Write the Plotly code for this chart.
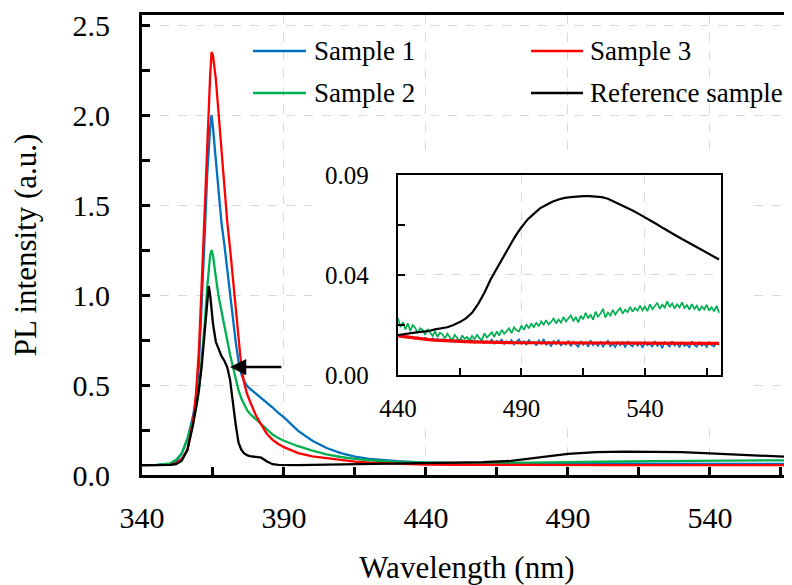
import plotly.graph_objects as go

# ---------------- main spectrum data ----------------
wavelength = [340, 345, 350, 352, 354, 356, 358, 359, 360, 361, 362, 363, 363.5, 364, 364.5,
              365, 366, 367, 368, 369, 370, 371, 372, 373, 374, 375, 376, 377, 378, 380,
              382, 384, 386, 388, 390, 395, 400, 405, 410, 415, 420, 430, 440, 450, 460,
              470, 475, 480, 485, 490, 495, 500, 510, 520, 530, 540, 550, 560, 570]

sample1 = [0.055, 0.055, 0.062, 0.075, 0.12, 0.2, 0.33, 0.42, 0.6, 0.92, 1.3, 1.68, 1.83, 1.93, 2.0,
           1.93, 1.75, 1.57, 1.4, 1.28, 1.14, 1.0, 0.86, 0.74, 0.63, 0.56, 0.52, 0.495, 0.48, 0.455,
           0.43, 0.4, 0.375, 0.345, 0.32, 0.245, 0.19, 0.15, 0.122, 0.102, 0.09, 0.077, 0.069, 0.066, 0.064,
           0.063, 0.063, 0.063, 0.063, 0.063, 0.063, 0.063, 0.063, 0.063, 0.062, 0.062, 0.062, 0.062, 0.062]

sample2 = [0.055, 0.056, 0.065, 0.085, 0.12, 0.2, 0.31, 0.37, 0.46, 0.62, 0.82, 1.05, 1.15, 1.22, 1.25,
           1.22, 1.1, 0.99, 0.91, 0.82, 0.75, 0.67, 0.6, 0.53, 0.47, 0.425, 0.39, 0.36, 0.34, 0.31,
           0.28, 0.25, 0.225, 0.205, 0.19, 0.16, 0.135, 0.115, 0.1, 0.09, 0.082, 0.073, 0.068, 0.066, 0.066,
           0.067, 0.068, 0.069, 0.07, 0.072, 0.073, 0.074, 0.075, 0.077, 0.079, 0.08, 0.081, 0.081, 0.081]

sample3 = [0.055, 0.055, 0.056, 0.065, 0.09, 0.14, 0.3, 0.45, 0.68, 1.05, 1.45, 1.9, 2.1, 2.22, 2.35,
           2.33, 2.2, 1.99, 1.81, 1.6, 1.41, 1.26, 1.1, 0.95, 0.75, 0.6, 0.51, 0.45, 0.41, 0.335,
           0.28, 0.228, 0.195, 0.172, 0.155, 0.122, 0.104, 0.093, 0.082, 0.074, 0.068, 0.062, 0.058, 0.057, 0.056,
           0.056, 0.056, 0.056, 0.056, 0.056, 0.055, 0.055, 0.055, 0.055, 0.055, 0.055, 0.055, 0.055, 0.055]

reference = [0.055, 0.055, 0.056, 0.06, 0.08, 0.14, 0.28, 0.37, 0.47, 0.6, 0.78, 0.98, 1.05, 1.0, 0.92,
             0.84, 0.74, 0.7, 0.66, 0.635, 0.6, 0.53, 0.4, 0.28, 0.18, 0.14, 0.12, 0.11, 0.105, 0.1,
             0.096, 0.075, 0.06, 0.056, 0.055, 0.055, 0.056, 0.057, 0.058, 0.059, 0.06, 0.062, 0.066, 0.068, 0.071,
             0.078, 0.089, 0.098, 0.108, 0.117, 0.122, 0.127, 0.130, 0.130, 0.127, 0.120, 0.113, 0.106, 0.099]

# ---------------- inset data ----------------
# smooth curves (Sample 3, Reference) on a 2.5 nm grid
inset_wl = [440, 442.5, 445, 447.5, 450, 452.5, 455, 457.5, 460, 462.5, 465, 467.5, 470, 472.5,
            475, 477.5, 480, 482.5, 485, 487.5, 490, 492.5, 495, 497.5, 500, 502.5, 505, 507.5,
            510, 512.5, 515, 517.5, 520, 522.5, 525, 527.5, 530, 532.5, 535, 537.5, 540, 542.5,
            545, 547.5, 550, 552.5, 555, 557.5, 560, 562.5, 565, 567.5, 570]

inset_sample3 = [0.0176, 0.0172, 0.0168, 0.0165, 0.0162, 0.0159, 0.0157, 0.0155, 0.0153, 0.0152, 0.0151, 0.0150,
                 0.0149, 0.0148, 0.0148, 0.0147, 0.0147, 0.0146, 0.0146, 0.0145, 0.0145, 0.0145, 0.0144, 0.0144,
                 0.0144, 0.0144, 0.0144, 0.0143, 0.0143, 0.0143, 0.0143, 0.0143, 0.0143, 0.0143, 0.0143, 0.0143,
                 0.0143, 0.0143, 0.0143, 0.0143, 0.0143, 0.0142, 0.0142, 0.0142, 0.0142, 0.0142, 0.0142, 0.0142,
                 0.0142, 0.0142, 0.0142, 0.0142, 0.0142]

inset_reference = [0.0180, 0.0185, 0.0190, 0.0192, 0.0195, 0.0198, 0.0205, 0.0210, 0.0215, 0.0225, 0.0238, 0.0255,
                   0.0280, 0.0320, 0.0370, 0.0430, 0.0480, 0.0530, 0.0580, 0.0625, 0.0665, 0.0700, 0.0725, 0.0750,
                   0.0765, 0.0780, 0.0790, 0.0797, 0.0800, 0.0803, 0.0805, 0.0805, 0.0803, 0.0800, 0.0793, 0.0780,
                   0.0768, 0.0755, 0.0740, 0.0725, 0.0710, 0.0693, 0.0677, 0.0660, 0.0642, 0.0628, 0.0612, 0.0597,
                   0.0582, 0.0567, 0.0550, 0.0535, 0.0520]

# noisy curves (Sample 1, Sample 2) on a 1 nm grid, 440..570 nm
inset_wl_fine = list(range(440, 571))

inset_sample1 = [0.0180, 0.0172, 0.0177, 0.0169, 0.0175, 0.0166, 0.0172, 0.0163, 0.0170, 0.0165,
                 0.0160, 0.0168, 0.0162, 0.0157, 0.0165, 0.0158, 0.0163, 0.0154, 0.0161, 0.0156,
                 0.0152, 0.0160, 0.0155, 0.0149, 0.0158, 0.0151, 0.0157, 0.0146, 0.0155, 0.0150,
                 0.0156, 0.0145, 0.0153, 0.0148, 0.0158, 0.0143, 0.0152, 0.0147, 0.0159, 0.0141,
                 0.0154, 0.0146, 0.0160, 0.0139, 0.0152, 0.0144, 0.0158, 0.0137, 0.0150, 0.0161,
                 0.0140, 0.0153, 0.0135, 0.0159, 0.0143, 0.0150, 0.0132, 0.0156, 0.0141, 0.0162,
                 0.0134, 0.0149, 0.0128, 0.0153, 0.0139, 0.0158, 0.0131, 0.0146, 0.0136, 0.0155,
                 0.0129, 0.0150, 0.0138, 0.0127, 0.0153, 0.0135, 0.0148, 0.0126, 0.0156, 0.0133,
                 0.0145, 0.0130, 0.0151, 0.0127, 0.0142, 0.0154, 0.0129, 0.0140, 0.0125, 0.0150,
                 0.0133, 0.0147, 0.0124, 0.0152, 0.0136, 0.0128, 0.0149, 0.0131, 0.0145, 0.0122,
                 0.0150, 0.0133, 0.0141, 0.0126, 0.0153, 0.0130, 0.0144, 0.0121, 0.0148, 0.0135,
                 0.0127, 0.0151, 0.0132, 0.0143, 0.0124, 0.0149, 0.0130, 0.0138, 0.0123, 0.0152,
                 0.0134, 0.0127, 0.0147, 0.0131, 0.0140, 0.0125, 0.0150, 0.0133, 0.0128, 0.0146,
                 0.0135]

inset_sample2 = [0.0255, 0.0215, 0.0238, 0.0205, 0.0232, 0.0198, 0.0225, 0.0212, 0.0188, 0.0210,
                 0.0203, 0.0180, 0.0207, 0.0192, 0.0176, 0.0196, 0.0172, 0.0190, 0.0183, 0.0165,
                 0.0186, 0.0170, 0.0158, 0.0181, 0.0166, 0.0152, 0.0178, 0.0163, 0.0171, 0.0155,
                 0.0176, 0.0160, 0.0182, 0.0165, 0.0158, 0.0188, 0.0168, 0.0179, 0.0192, 0.0171,
                 0.0196, 0.0178, 0.0203, 0.0185, 0.0199, 0.0210, 0.0188, 0.0215, 0.0201, 0.0196,
                 0.0222, 0.0203, 0.0228, 0.0210, 0.0232, 0.0214, 0.0236, 0.0219, 0.0241, 0.0226,
                 0.0247, 0.0228, 0.0239, 0.0255, 0.0232, 0.0250, 0.0236, 0.0261, 0.0241, 0.0253,
                 0.0268, 0.0244, 0.0259, 0.0237, 0.0266, 0.0251, 0.0280, 0.0255, 0.0272, 0.0248,
                 0.0285, 0.0262, 0.0276, 0.0298, 0.0259, 0.0281, 0.0267, 0.0293, 0.0272, 0.0288,
                 0.0301, 0.0276, 0.0294, 0.0282, 0.0307, 0.0285, 0.0302, 0.0289, 0.0312, 0.0291,
                 0.0308, 0.0287, 0.0318, 0.0296, 0.0311, 0.0325, 0.0298, 0.0316, 0.0303, 0.0331,
                 0.0306, 0.0322, 0.0299, 0.0318, 0.0304, 0.0327, 0.0301, 0.0315, 0.0294, 0.0319,
                 0.0297, 0.0312, 0.0289, 0.0308, 0.0295, 0.0316, 0.0290, 0.0305, 0.0286, 0.0311,
                 0.0280]

series_names = ["Sample 1", "Sample 2", "Sample 3", "Reference sample"]
series_colors = ["#0070C0", "#00B050", "#FF0000", "#000000"]
main_values = [sample1, sample2, sample3, reference]
inset_series = [(inset_wl_fine, inset_sample1, 1.6), (inset_wl_fine, inset_sample2, 1.7),
                (inset_wl, inset_sample3, 3.2), (inset_wl, inset_reference, 2.2)]

main_x_ticks = [340, 390, 440, 490, 540]
inset_x_ticks = [440, 490, 540]
inset_y_ticks = [0.0, 0.045, 0.09]
inset_y_labels = ["0.00", "0.04", "0.09"]

FONT = "Liberation Serif, Times New Roman, serif"
GRID = "#d9d9d9"

fig = go.Figure()

for name, color, vals in zip(series_names, series_colors, main_values):
    fig.add_trace(go.Scatter(x=wavelength, y=vals, mode="lines", name=name,
                             line=dict(color=color, width=2.3), showlegend=False,
                             xaxis="x", yaxis="y"))

for name, color, (xs, vals, w) in zip(series_names, series_colors, inset_series):
    fig.add_trace(go.Scatter(x=xs, y=vals, mode="lines", name=name,
                             line=dict(color=color, width=w), showlegend=False,
                             xaxis="x2", yaxis="y2"))

# the page body has an 8px default margin, so the figure is sized 8px smaller
fig.update_layout(
    width=784, height=577,
    margin=dict(l=134, r=0, t=7, b=110, autoexpand=False),
    paper_bgcolor="white", plot_bgcolor="white",
    font=dict(family=FONT, color="black"),
    xaxis=dict(
        range=[340, 568.9], domain=[0, 1], automargin=False,
        tickvals=main_x_ticks, ticks="inside", ticklen=8, tickwidth=2.5, tickcolor="black",
        minor=dict(dtick=25, tick0=340, ticks="inside", ticklen=8, tickwidth=2.5, tickcolor="black", showgrid=False),
        showline=True, linewidth=3, linecolor="black", mirror=True,
        showgrid=True, gridcolor=GRID, griddash="dash", gridwidth=1.3,
        tickfont=dict(size=30, family=FONT), ticklabelstandoff=14,
        title=dict(text="Wavelength (nm)", font=dict(size=31, family=FONT), standoff=36),
        zeroline=False,
    ),
    yaxis=dict(
        range=[0, 2.5556], domain=[0, 1], automargin=False,
        dtick=0.5, tick0=0, tickformat=".1f", ticks="inside", ticklen=8, tickwidth=2.5, tickcolor="black",
        minor=dict(dtick=0.25, tick0=0, ticks="inside", ticklen=8, tickwidth=2.5, tickcolor="black", showgrid=False),
        showline=True, linewidth=3, linecolor="black",
        showgrid=True, gridcolor=GRID, griddash="dash", gridwidth=1.3,
        tickfont=dict(size=30, family=FONT), ticklabelstandoff=23,
        title=dict(text="PL intensity (a.u.)", font=dict(size=31, family=FONT), standoff=28),
        zeroline=False,
    ),
    xaxis2=dict(
        range=[440, 570.8], domain=[0.3938, 0.8908], anchor="y2", automargin=False,
        tickvals=inset_x_ticks, ticks="inside", ticklen=7, tickwidth=2, tickcolor="black",
        minor=dict(dtick=25, tick0=440, ticks="inside", ticklen=7, tickwidth=2, tickcolor="black", showgrid=False),
        showline=True, linewidth=2.2, linecolor="black", mirror=True,
        showgrid=True, gridcolor=GRID, griddash="dash", gridwidth=1.2,
        tickfont=dict(size=25, family=FONT), ticklabelstandoff=10,
        zeroline=False,
    ),
    yaxis2=dict(
        range=[0, 0.09], domain=[0.2174, 0.6522], anchor="x2", automargin=False,
        tickvals=inset_y_ticks, ticktext=inset_y_labels,
        ticks="inside", ticklen=7, tickwidth=2, tickcolor="black",
        minor=dict(dtick=0.0225, tick0=0, ticks="inside", ticklen=7, tickwidth=2, tickcolor="black", showgrid=False),
        showline=True, linewidth=2.2, linecolor="black", mirror=True,
        showgrid=True, gridcolor=GRID, griddash="dash", gridwidth=1.2,
        tickfont=dict(size=25, family=FONT), ticklabelstandoff=22,
        zeroline=False,
    ),
)

# white backing panel behind the inset (hides the main gridlines there)
fig.add_shape(type="rect", xref="x", yref="y",
              x0=399.9, x1=554.1, y0=0.294, y1=1.767,
              fillcolor="white", line=dict(width=0), layer="between")

# manual legend (two columns)
legend_layout = [
    ("Sample 1", "#0070C0", 0.1708, 0.2523, 0.2615, 0.9217),
    ("Sample 2", "#00B050", 0.1708, 0.2523, 0.2615, 0.8304),
    ("Sample 3", "#FF0000", 0.5985, 0.6785, 0.6862, 0.9217),
    ("Reference sample", "#000000", 0.5985, 0.6785, 0.6862, 0.8304),
]
for text, color, lx0, lx1, tx, ly in legend_layout:
    fig.add_shape(type="line", xref="paper", yref="paper", x0=lx0, x1=lx1, y0=ly, y1=ly,
                  line=dict(color=color, width=2.5))
    fig.add_annotation(xref="paper", yref="paper", x=tx, y=ly, text=text, showarrow=False,
                       xanchor="left", yanchor="middle", font=dict(size=27, family=FONT, color="black"))

# arrow pointing at the shoulder of the reference spectrum
fig.add_annotation(x=371, y=0.6, xref="x", yref="y", ax=389.6, ay=0.6, axref="x", ayref="y",
                   text="", showarrow=True, arrowhead=2, arrowsize=1.3, arrowwidth=2.5,
                   arrowcolor="black")

fig.write_html("out.html")
